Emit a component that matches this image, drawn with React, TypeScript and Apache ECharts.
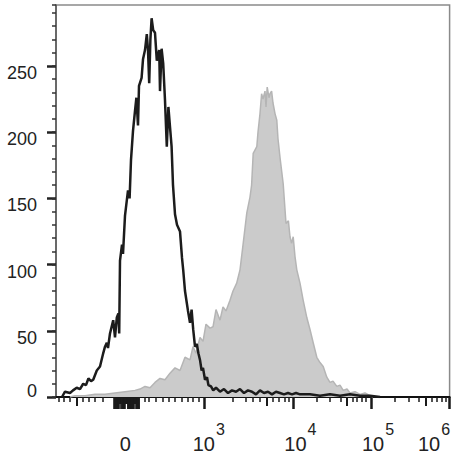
import React, { useEffect, useRef } from "react";
import * as echarts from "echarts";

// Display channel scale (biexponential display units)
const X_MIN = 0;
const X_MAX = 984;
const Y_MAX = 296;

// Control (black outline) histogram
const blackX = [15, 22.5, 35, 42.5, 51.75, 60, 68, 75, 81, 87.5, 93, 102, 110, 118, 122.5, 127, 130, 135, 143, 147.5, 152, 156, 158, 160, 165, 167.5, 172.5, 180, 184, 187.5, 192.5, 197.5, 201, 205, 207.5, 214, 217.5, 222.5, 227, 230, 233, 236, 239, 243, 247.5, 252, 255, 258, 260, 264, 268, 272.5, 277, 281, 285, 289, 292.5, 297.5, 302.5, 310, 315, 318, 322.5, 327, 330, 335, 339, 343, 347.5, 352, 356, 360, 364, 367.5, 372.5, 377.5, 381, 387.5, 393, 400, 410, 420, 430, 440, 450, 460, 470, 480, 490, 500, 510, 520, 530, 540, 550, 560, 570, 580, 590, 600, 610, 635, 660, 685, 710, 735, 760, 785, 810];
const blackY = [0, 4, 3, 5, 7, 6, 10, 9, 14, 12, 13, 20, 23, 33, 38, 41, 37, 48, 58, 45, 60, 63, 48, 103, 115, 108, 137, 156, 150, 179, 201, 216, 226, 205, 235, 241, 255, 262, 274, 262, 237, 270, 286, 277, 275, 254, 258, 262, 231, 263, 252, 224, 189, 219, 204, 189, 160, 138, 130, 125, 105, 96, 80, 71, 65, 56, 66, 51, 38, 40, 33, 28, 20, 22, 13, 15, 9, 8, 5, 7, 4, 6, 3, 5, 4, 6, 3, 5, 4, 2, 5, 3, 4, 2, 4, 3, 2, 3, 2, 3, 2, 2, 1, 2, 1, 2, 1, 1, 0];

// Stained sample (grey filled) histogram
const greyX = [35, 47.5, 72.5, 97.5, 122.5, 147.5, 172.5, 197.5, 210, 222.5, 235, 247.5, 260, 272.5, 285, 297.5, 310, 322.5, 335, 342.5, 350, 360, 367.5, 375, 385, 392.5, 400, 410, 417.5, 425, 435, 442.5, 451.75, 460, 468, 477, 485, 489, 493, 502, 505, 510, 514, 517.5, 522.5, 525, 528, 532.5, 535, 539, 542.5, 547.5, 552, 555, 560, 568, 575, 581, 585, 589, 593, 597.5, 602, 610, 618, 627, 635, 643, 652, 660, 668, 677, 685, 692.5, 702, 710, 718, 727.5, 735, 747.5, 760, 772.5, 785, 792.5];
const greyY = [0, 1, 1, 2, 2, 3, 4, 5, 6, 8, 7, 11, 14, 13, 18, 22, 20, 30, 28, 38, 33, 45, 42, 55, 52, 53, 66, 58, 68, 65, 73, 80, 86, 96, 116, 139, 151, 160, 184, 189, 200, 214, 229, 225, 231, 219, 234, 226, 229, 231, 222, 214, 209, 195, 181, 161, 131, 133, 121, 116, 121, 106, 96, 86, 73, 60, 51, 41, 30, 26, 23, 15, 11, 12, 8, 9, 5, 6, 3, 4, 2, 3, 1, 0];

// X axis ticks (display units)
const xMajorTicks = [371, 593, 789, 984];
const xMediumTicks = [51, 527, 728, 925];
const xMinorTicks = [6, 19, 34, 67.5, 82.5, 96, 117.5, 222.5, 232.5, 250, 268, 281, 297.5, 314, 329, 343, 356, 442.5, 475, 493, 510, 541, 558, 571, 581, 652, 685, 712, 742, 753, 764, 775, 848, 881, 906, 939, 952, 964, 975];
const xDenseTicks = [145, 146.5, 148, 149.5, 151, 152.5, 154, 155.5, 157, 163, 164.5, 166, 167.5, 169, 170.5, 172, 179, 180.5, 182, 183.5, 185, 186.5, 188, 189.5, 191, 192.5, 194, 200, 201.5, 203, 204.5, 206, 207.5];
const xDenseShortTicks = [158.5, 160, 161.5, 173.5, 175, 176.5, 178, 195.5, 197, 198.5];

// X axis labels
const xLabelPositions = [173, 382, 611, 805, 945];
const xLabelBase = ["0", "10", "10", "10", "10"];
const xLabelExp = ["", "3", "4", "5", "6"];

// Y axis
const yInterval = 50;
const yMinorInterval = 10;

const FONT = "'Liberation Sans', Arial, Helvetica, sans-serif";

function tickAxis(values: number[], length: number, width: number) {
  return {
    type: "value",
    min: X_MIN,
    max: X_MAX,
    position: "bottom",
    axisLine: { show: false },
    splitLine: { show: false },
    axisLabel: { show: false },
    axisTick: {
      show: true,
      customValues: values,
      length,
      lineStyle: { color: "#1a1a1a", width },
    },
  };
}

export default function App() {
  const ref = useRef<HTMLDivElement>(null);

  useEffect(() => {
    if (!ref.current) return;
    const chart = echarts.init(ref.current, null, { renderer: "svg" });
    const blackData = blackX.map((x, i) => [x, blackY[i]]);
    const greyData = greyX.map((x, i) => [x, greyY[i]]);

    chart.setOption({
      animation: false,
      backgroundColor: "#ffffff",
      grid: {
        left: 56,
        right: 10.4,
        top: 5,
        bottom: 59,
        show: true,
        containLabel: false,
        outerBoundsMode: "none",
        borderColor: "#8a8a8a",
        borderWidth: 1.5,
        backgroundColor: "transparent",
      },
      xAxis: [
        {
          type: "value",
          min: X_MIN,
          max: X_MAX,
          position: "bottom",
          axisLine: { show: true, onZero: false, lineStyle: { color: "#111", width: 2 } },
          splitLine: { show: false },
          axisTick: {
            show: true,
            customValues: xMajorTicks,
            length: 12,
            lineStyle: { color: "#1a1a1a", width: 2.5 },
          },
          axisLabel: {
            show: true,
            customValues: xLabelPositions,
            margin: 33,
            color: "#222",
            fontFamily: FONT,
            formatter: (v: number) => {
              const i = xLabelPositions.indexOf(v);
              if (i < 0) return "";
              if (!xLabelExp[i]) return "{z|" + xLabelBase[i] + "}";
              return "{b|" + xLabelBase[i] + "}{s|" + xLabelExp[i] + "}";
            },
            rich: {
              b: { fontSize: 20, lineHeight: 24, verticalAlign: "bottom", fontFamily: FONT, color: "#222" },
              s: { fontSize: 16, lineHeight: 16, padding: [0, 0, 17, 1], verticalAlign: "bottom", fontFamily: FONT, color: "#222" },
              z: { fontSize: 20, lineHeight: 24, padding: [9, 0, 0, 0], verticalAlign: "bottom", fontFamily: FONT, color: "#222" },
            },
          },
        },
        tickAxis(xMediumTicks, 9, 2),
        tickAxis(xMinorTicks, 5, 1.5),
        tickAxis(xDenseTicks, 12, 1.6),
        tickAxis(xDenseShortTicks, 7, 1.6),
      ],
      yAxis: [
        {
          type: "value",
          min: 0,
          max: Y_MAX,
          interval: yInterval,
          axisLine: { show: true, lineStyle: { color: "#555", width: 1.5 } },
          splitLine: { show: false },
          axisTick: { show: true, length: 9, lineStyle: { color: "#222", width: 2.5 } },
          axisLabel: {
            margin: 19,
            color: "#222",
            fontFamily: FONT,
            fontSize: 18,
            showMaxLabel: false,
            formatter: (v: number) => (v === 0 ? "{z|0}" : v % 50 === 0 ? "{a|" + v + "}" : ""),
            rich: {
              a: { fontSize: 18, fontFamily: FONT, color: "#222", padding: [14, 0, 0, 0] },
              z: { fontSize: 18, fontFamily: FONT, color: "#222", padding: [0, 0, 12, 0] },
            },
          },
        },
        {
          type: "value",
          min: 0,
          max: Y_MAX,
          interval: yMinorInterval,
          position: "left",
          axisLine: { show: false },
          splitLine: { show: false },
          axisLabel: { show: false },
          axisTick: { show: true, length: 4, lineStyle: { color: "#333", width: 1.5 } },
        },
      ],
      series: [
        {
          type: "line",
          xAxisIndex: 0,
          yAxisIndex: 0,
          data: greyData,
          showSymbol: false,
          smooth: false,
          z: 2,
          lineStyle: { color: "#b5b5b5", width: 1.5 },
          areaStyle: { color: "#cbcbcb", opacity: 1 },
        },
        {
          type: "line",
          xAxisIndex: 0,
          yAxisIndex: 0,
          data: blackData,
          showSymbol: false,
          smooth: false,
          z: 3,
          lineStyle: { color: "#1c1c1c", width: 2.5 },
        },
      ],
    });
    return () => chart.dispose();
  }, []);

  return (
    <div
      ref={ref}
      style={{ position: "absolute", left: 0, top: 0, width: 460, height: 456, background: "#fff" }}
    />
  );
}
